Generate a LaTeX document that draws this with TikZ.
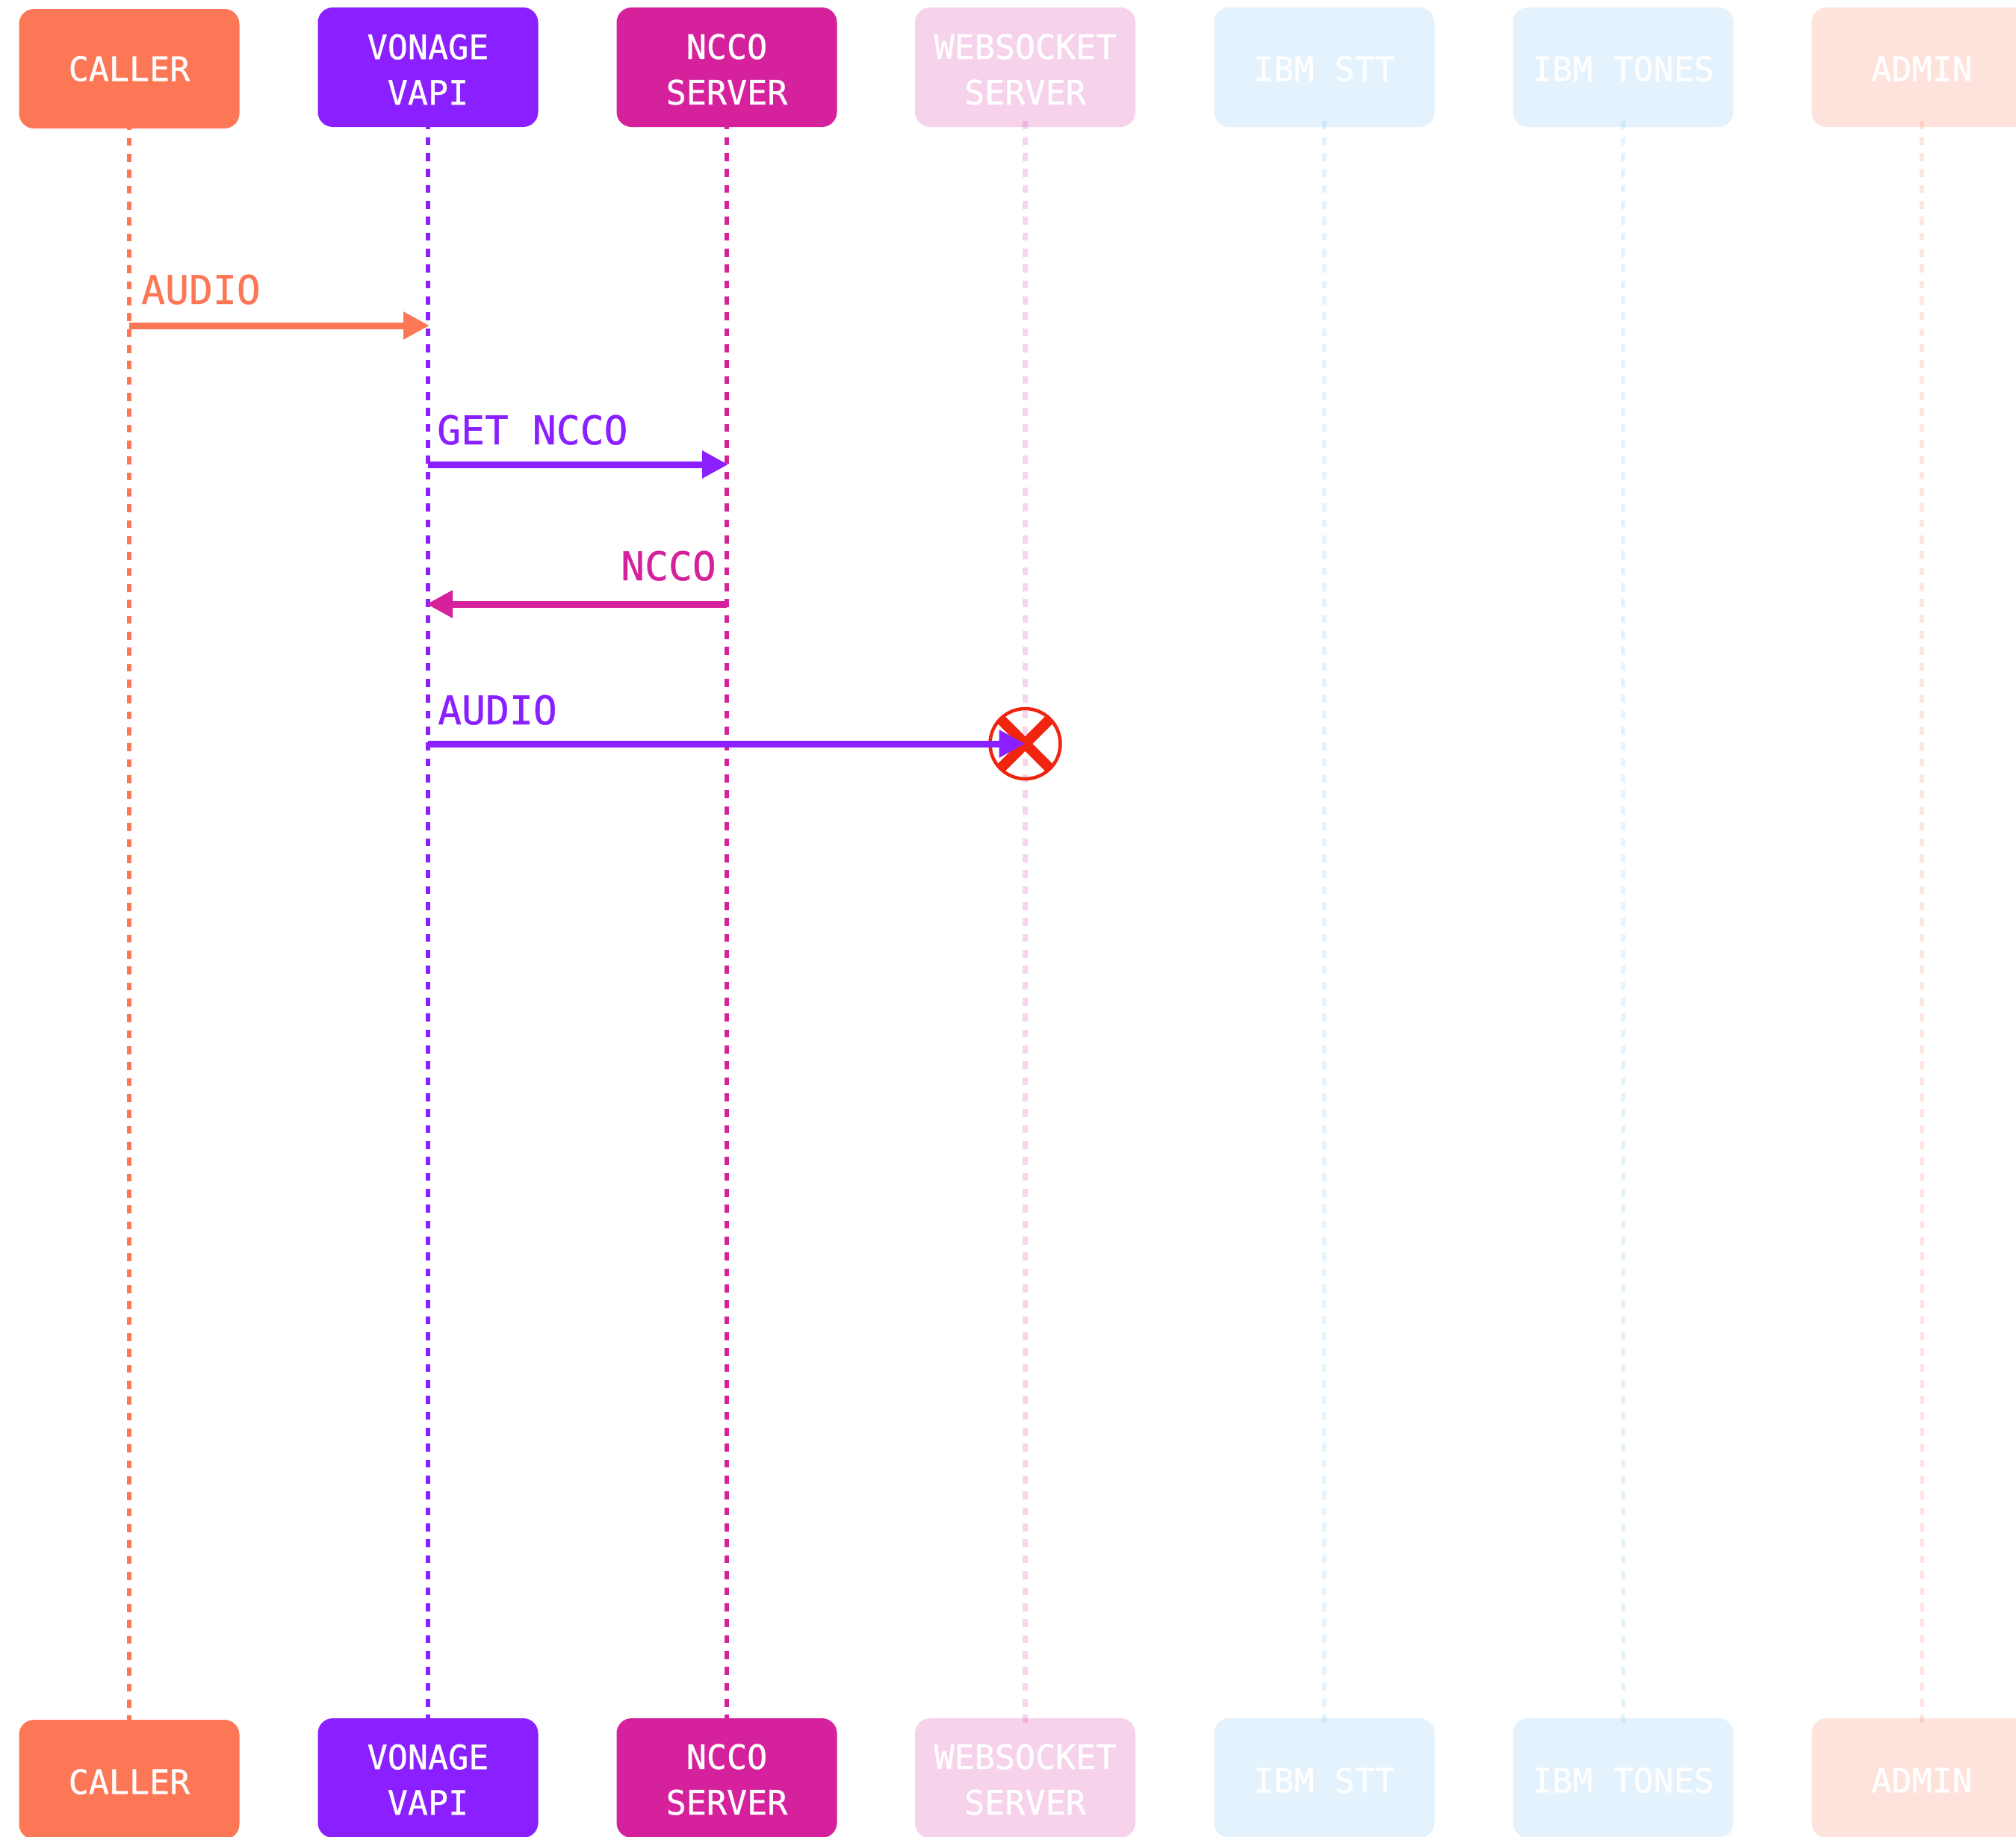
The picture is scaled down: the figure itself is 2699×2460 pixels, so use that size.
\documentclass[tikz,border=0pt]{standalone}
\usepackage{fontspec}
\setmainfont[FakeBold=0.7]{DejaVu Sans Mono}
\usetikzlibrary{arrows.meta}
\definecolor{ccaller}{HTML}{FC7756}
\definecolor{cvonage}{HTML}{8A20FF}
\definecolor{cncco}{HTML}{D6219C}
\definecolor{cws}{HTML}{F6D3EB}
\definecolor{cibm}{HTML}{E3F2FC}
\definecolor{cadmin}{HTML}{FEE3DD}
\definecolor{bibm}{HTML}{73BEF0}
\definecolor{cred}{HTML}{F0240F}
\newcommand\sh[2]{\raisebox{-#1pt}[\height][\depth]{#2}}
\tikzset{
  actor/.style={fill=#1,draw=none,rounded corners=20pt,minimum width=295pt,minimum height=160pt,inner sep=0pt,text=white,align=center,font=\fontsize{45}{61}\selectfont},
  life/.style={draw=#1,line width=6.5pt,dash pattern=on 10.67pt off 10.67pt},
  faded/.style={draw opacity=0.18},
  msg/.style={draw=#1,line width=9pt,-{Triangle[length=35pt,width=35pt,fill=#1]}},
  msglabel/.style={text=#1,inner sep=0pt,font=\fontsize{53}{60}\selectfont}
}
\begin{document}
\begin{tikzpicture}[x=1pt,y=-1pt]
\useasboundingbox (0,0) rectangle (2699,2460);
\fill[white] (0,0) rectangle (2699,2460);
\clip (0,0) rectangle (2699,2460);
% top row
\node[actor=ccaller] (caller) at (173,92) {\sh{0}{CALLER}};
\node[actor=cvonage] (vonage) at (573,90) {\sh{3}{VONAGE}\\\sh{3}{VAPI}};
\node[actor=cncco] (ncco) at (973,90) {\sh{3}{NCCO}\\\sh{3}{SERVER}};
\node[actor=cws] (ws) at (1372.5,90) {\sh{3}{WEBSOCKET}\\\sh{3}{SERVER}};
\node[actor=cibm] (stt) at (1773,90) {\sh{2}{IBM STT}};
\node[actor=cibm] (tones) at (2173,90) {\sh{2}{IBM TONES}};
\node[actor=cadmin] (admin) at (2573,90) {\sh{2}{ADMIN}};
% bottom row
\node[actor=ccaller] (callerb) at (173,2383) {\sh{3}{CALLER}};
\node[actor=cvonage] (vonageb) at (573,2381) {\sh{2}{VONAGE}\\\sh{2}{VAPI}};
\node[actor=cncco] (nccob) at (973,2381) {\sh{2}{NCCO}\\\sh{2}{SERVER}};
\node[actor=cws] (wsb) at (1372.5,2381) {\sh{2}{WEBSOCKET}\\\sh{2}{SERVER}};
\node[actor=cibm] (sttb) at (1773,2381) {\sh{3}{IBM STT}};
\node[actor=cibm] (tonesb) at (2173,2381) {\sh{3}{IBM TONES}};
\node[actor=cadmin] (adminb) at (2573,2381) {\sh{3}{ADMIN}};
% lifelines
\draw[life=ccaller] ([yshift=9pt]caller.south) -- ([yshift=-6pt]callerb.north);
\draw[life=cvonage] ([yshift=8pt]vonage.south) -- ([yshift=-6pt]vonageb.north);
\draw[life=cncco] ([yshift=8pt]ncco.south) -- ([yshift=-6pt]nccob.north);
\draw[life=cncco,faded] ([yshift=8pt]ws.south) -- ([yshift=-6pt]wsb.north);
\draw[life=bibm,faded] ([yshift=8pt]stt.south) -- ([yshift=-6pt]sttb.north);
\draw[life=bibm,faded] ([yshift=8pt]tones.south) -- ([yshift=-6pt]tonesb.north);
\draw[life=ccaller,faded] ([yshift=8pt]admin.south) -- ([yshift=-6pt]adminb.north);
% message end points
\coordinate (m1a) at (173,436); \coordinate (m1b) at (575,436);
\coordinate (m2a) at (573,622); \coordinate (m2b) at (975,622);
\coordinate (m3a) at (973,809); \coordinate (m3b) at (571,809);
\coordinate (m4a) at (573,996);
% stop mark
\node[circle,draw=cred,line width=4.5pt,minimum size=94pt,inner sep=0pt] (stop) at (1372.5,996) {};
\begin{scope}
\clip (stop.center) circle (47pt);
\draw[cred,line width=14pt] ([shift={(-45,-45)}]stop.center) -- ([shift={(45,45)}]stop.center);
\draw[cred,line width=14pt] ([shift={(-45,45)}]stop.center) -- ([shift={(45,-45)}]stop.center);
\end{scope}
% messages
\draw[msg=ccaller] (m1a) -- (m1b);
\draw[msg=cvonage] (m2a) -- (m2b);
\draw[msg=cncco] (m3a) -- (m3b);
\draw[msg=cvonage] (m4a) -- (stop.center);
% labels
\node[msglabel=ccaller,anchor=base west] (l1) at (189,407) {AUDIO};
\node[msglabel=cvonage,anchor=base west] (l2) at (585,595) {GET NCCO};
\node[msglabel=cncco,anchor=base east] (l3) at (959,777) {NCCO};
\node[msglabel=cvonage,anchor=base west] (l4) at (586,970) {AUDIO};
\end{tikzpicture}
\end{document}
